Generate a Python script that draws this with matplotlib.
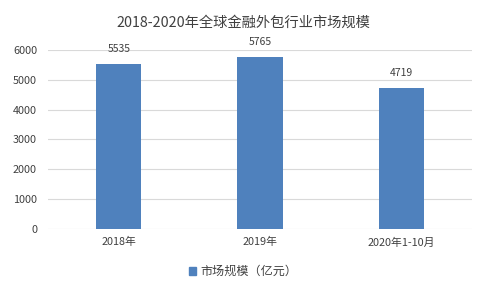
import matplotlib.pyplot as plt
from matplotlib.patches import Patch

plt.rcParams['font.family'] = ['Noto Sans CJK SC', 'DejaVu Sans']

categories = ['2018年', '2019年', '2020年1-10月']
values = [5535, 5765, 4719]
yticks = [0, 1000, 2000, 3000, 4000, 5000, 6000]

bar_color = '#4F81BD'
grid_color = '#D9D9D9'
text_color = '#404040'

fig = plt.figure(figsize=(4.86, 2.92), dpi=100)
ax = fig.add_axes([0.099, 0.216, 0.872, 0.613])

x = range(len(categories))
bars = ax.bar(x, values, width=0.32, color=bar_color, zorder=3)
for xi, v in zip(x, values):
    ax.text(xi, v + 330, str(v), ha='center', va='bottom', fontsize=7.5, color=text_color)

ax.set_xlim(-0.5, len(categories) - 0.5)
ax.set_ylim(0, 6000)
ax.set_yticks(yticks)
ax.set_xticks(list(x))
ax.set_xticklabels(categories, fontsize=7.8, color=text_color)
ax.tick_params(axis='y', labelsize=7.8, labelcolor=text_color, length=0, pad=8)
ax.tick_params(axis='x', length=0, pad=6)
ax.grid(axis='y', color=grid_color, linewidth=0.8, zorder=0)
for s in ax.spines.values():
    s.set_visible(False)

fig.suptitle('2018-2020年全球金融外包行业市场规模', y=0.945, fontsize=10.3, color=text_color)

fig.legend(handles=[Patch(color=bar_color, label='市场规模（亿元）')],
           loc='center', bbox_to_anchor=(0.5, 0.07), frameon=False,
           fontsize=8.7, handlelength=0.6, handleheight=0.6, handletextpad=0.3,
           labelcolor=text_color)

fig.savefig('out.png', dpi=100)
